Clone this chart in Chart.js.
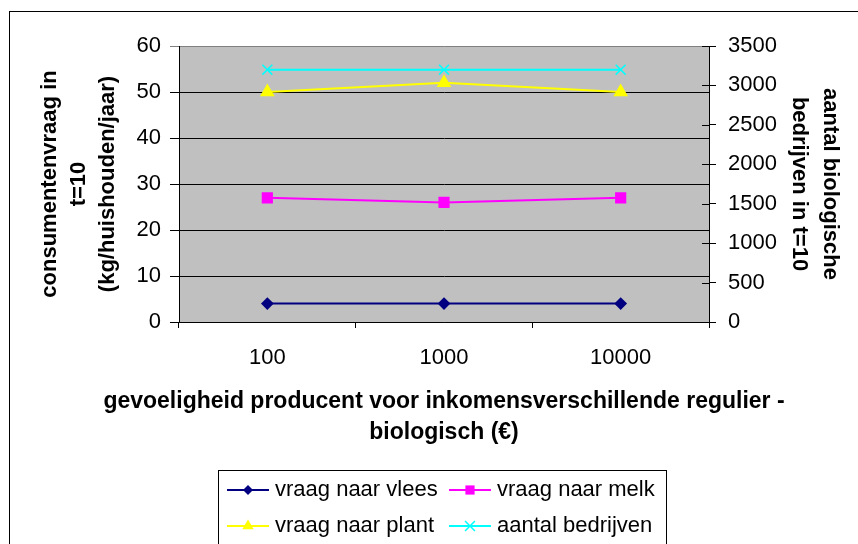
<!DOCTYPE html>
<html>
<head>
<meta charset="utf-8">
<script src="https://cdn.jsdelivr.net/npm/chart.js@4"></script>
<style>
 body { margin: 0; background: #fff; }
 #wrap { width: 858px; height: 544px; }
</style>
</head>
<body>
<div id="wrap"><canvas id="mainChart" width="858" height="544"></canvas></div>
<script>
'use strict';

// categories and series
var categories = ['100', '1000', '10000'];
var vraagVlees = [4, 4, 4];
var vraagMelk = [27, 26, 27];
var vraagPlant = [50, 52, 50];
var aantalBedrijven = [3200, 3200, 3200];

var leftTicks = [0, 10, 20, 30, 40, 50, 60];
var rightTicks = [0, 500, 1000, 1500, 2000, 2500, 3000, 3500];

var xTitle = ['gevoeligheid producent voor inkomensverschillende regulier -', 'biologisch (€)'];

var FONT = "'Liberation Sans', Arial, sans-serif";

// plot background, outer frame, inner half of right axis ticks, x title
var framePlugin = {
  id: 'frame',
  beforeDraw: function(chart) {
    var ctx = chart.ctx, a = chart.chartArea;
    ctx.save();
    ctx.fillStyle = '#fff';
    ctx.fillRect(0, 0, chart.width, chart.height);
    ctx.fillStyle = '#c0c0c0';
    ctx.fillRect(a.left, a.top, a.right - a.left, a.bottom - a.top);
    ctx.strokeStyle = '#000';
    ctx.lineWidth = 1;
    ctx.strokeRect(9.5, 11.5, 1000, 1000);
    ctx.restore();
  },
  afterDraw: function(chart) {
    var ctx = chart.ctx, a = chart.chartArea;
    var y1 = chart.scales.y1;
    ctx.save();
    ctx.strokeStyle = '#000';
    ctx.lineWidth = 1;
    y1.ticks.forEach(function(t) {
      var py = Math.round(y1.getPixelForValue(t.value)) + 0.5;
      ctx.beginPath();
      ctx.moveTo(a.right - 7, py);
      ctx.lineTo(a.right, py);
      ctx.stroke();
    });
    // x axis title is wider than the plot, so it is drawn here
    ctx.fillStyle = '#000';
    ctx.font = 'bold 23px ' + FONT;
    ctx.textAlign = 'center';
    ctx.textBaseline = 'middle';
    var cx = (a.left + a.right) / 2;
    ctx.fillText(xTitle[0], cx, 402);
    ctx.fillText(xTitle[1], cx, 433);
    ctx.restore();
  }
};

// Excel style legend box under the chart
var legendPlugin = {
  id: 'boxLegend',
  afterDraw: function(chart) {
    var ctx = chart.ctx;
    var cols = [227, 449];
    var rows = [490, 526];
    ctx.save();
    ctx.strokeStyle = '#000';
    ctx.lineWidth = 1;
    ctx.strokeRect(218.5, 470.5, 448, 200);
    ctx.font = '22px ' + FONT;
    ctx.textBaseline = 'middle';
    ctx.textAlign = 'left';
    chart.data.datasets.forEach(function(ds, i) {
      var x = cols[i % 2], y = rows[Math.floor(i / 2)];
      ctx.strokeStyle = ds.borderColor;
      ctx.lineWidth = 2;
      ctx.beginPath();
      ctx.moveTo(x, y);
      ctx.lineTo(x + 42, y);
      ctx.stroke();
      var cx = x + 21;
      var r = ds.pointRadius;
      ctx.fillStyle = ds.pointBackgroundColor;
      ctx.strokeStyle = ds.pointBorderColor;
      ctx.lineWidth = 1.5;
      ctx.beginPath();
      if (ds.pointStyle === 'rectRot') {
        ctx.moveTo(cx, y - r); ctx.lineTo(cx + r, y); ctx.lineTo(cx, y + r); ctx.lineTo(cx - r, y); ctx.closePath(); ctx.fill();
      } else if (ds.pointStyle === 'rect') {
        var s = r * Math.SQRT1_2;
        ctx.rect(cx - s, y - s, 2 * s, 2 * s); ctx.fill();
      } else if (ds.pointStyle === 'triangle') {
        ctx.moveTo(cx, y - r); ctx.lineTo(cx + r * 0.866, y + r / 2); ctx.lineTo(cx - r * 0.866, y + r / 2); ctx.closePath(); ctx.fill();
      } else {
        var d = r * Math.SQRT1_2;
        ctx.moveTo(cx - d, y - d); ctx.lineTo(cx + d, y + d);
        ctx.moveTo(cx + d, y - d); ctx.lineTo(cx - d, y + d);
        ctx.stroke();
      }
      ctx.fillStyle = '#000';
      ctx.fillText(ds.label, x + 48, y);
    });
    ctx.restore();
  }
};

new Chart('mainChart', {
  type: 'line',
  data: {
    labels: categories,
    datasets: [{
      label: 'vraag naar vlees',
      data: vraagVlees,
      yAxisID: 'y',
      borderColor: '#000080',
      backgroundColor: '#000080',
      pointBackgroundColor: '#000080',
      pointBorderColor: '#000080',
      pointStyle: 'rectRot',
      pointRadius: 5,
      borderWidth: 2
    }, {
      label: 'vraag naar melk',
      data: vraagMelk,
      yAxisID: 'y',
      borderColor: '#ff00ff',
      backgroundColor: '#ff00ff',
      pointBackgroundColor: '#ff00ff',
      pointBorderColor: '#ff00ff',
      pointStyle: 'rect',
      pointRadius: 6.5,
      borderWidth: 2
    }, {
      label: 'vraag naar plant',
      data: vraagPlant,
      yAxisID: 'y',
      borderColor: '#ffff00',
      backgroundColor: '#ffff00',
      pointBackgroundColor: '#ffff00',
      pointBorderColor: '#ffff00',
      pointStyle: 'triangle',
      pointRadius: 6.5,
      borderWidth: 2
    }, {
      label: 'aantal bedrijven',
      data: aantalBedrijven,
      yAxisID: 'y1',
      borderColor: '#00ffff',
      backgroundColor: '#00ffff',
      pointBackgroundColor: '#00ffff',
      pointBorderColor: '#00ffff',
      pointStyle: 'crossRot',
      pointRadius: 7,
      pointBorderWidth: 1.5,
      borderWidth: 2
    }]
  },
  options: {
    responsive: false,
    animation: false,
    layout: { padding: { top: 46, left: 0, right: 0, bottom: 0 } },
    plugins: {
      legend: { display: false },
      tooltip: { enabled: false }
    },
    scales: {
      x: {
        offset: true,
        afterFit: function(s) { s.height = 222; },
        grid: { offset: true, drawOnChartArea: false, color: '#000', tickLength: 6 },
        border: { color: '#000' },
        ticks: { color: '#000', padding: 17, font: { family: FONT, size: 22 } }
      },
      y: {
        position: 'left',
        min: 0,
        max: 60,
        afterFit: function(s) { s.width = 179; },
        afterBuildTicks: function(s) { s.ticks = leftTicks.map(function(v) { return { value: v }; }); },
        grid: {
          color: function(c) { return c.tick && c.tick.value === 60 ? '#808080' : '#000'; },
          tickLength: 9
        },
        border: { color: '#000' },
        ticks: { color: '#000', padding: 9, font: { family: FONT, size: 22 } },
        title: {
          display: true,
          text: ['consumentenvraag in', 't=10', '(kg/huishouden/jaar)'],
          color: '#000',
          font: { family: FONT, size: 22, weight: 'bold', lineHeight: 1.32 },
          padding: { top: 35, bottom: 0 }
        }
      },
      y1: {
        position: 'right',
        min: 0,
        max: 3500,
        afterFit: function(s) { s.width = 149; },
        afterBuildTicks: function(s) { s.ticks = rightTicks.map(function(v) { return { value: v }; }); },
        grid: { drawOnChartArea: false, color: '#000', tickLength: 7 },
        border: { color: '#000' },
        ticks: {
          color: '#000',
          padding: 12,
          font: { family: FONT, size: 22 },
          callback: function(v) { return String(v); }
        },
        title: {
          display: true,
          text: ['aantal biologische', 'bedrijven in t=10'],
          color: '#000',
          font: { family: FONT, size: 22, weight: 'bold', lineHeight: 1.38 },
          padding: { top: 13, bottom: 0 }
        }
      }
    }
  },
  plugins: [framePlugin, legendPlugin]
});
</script>
</body>
</html>
